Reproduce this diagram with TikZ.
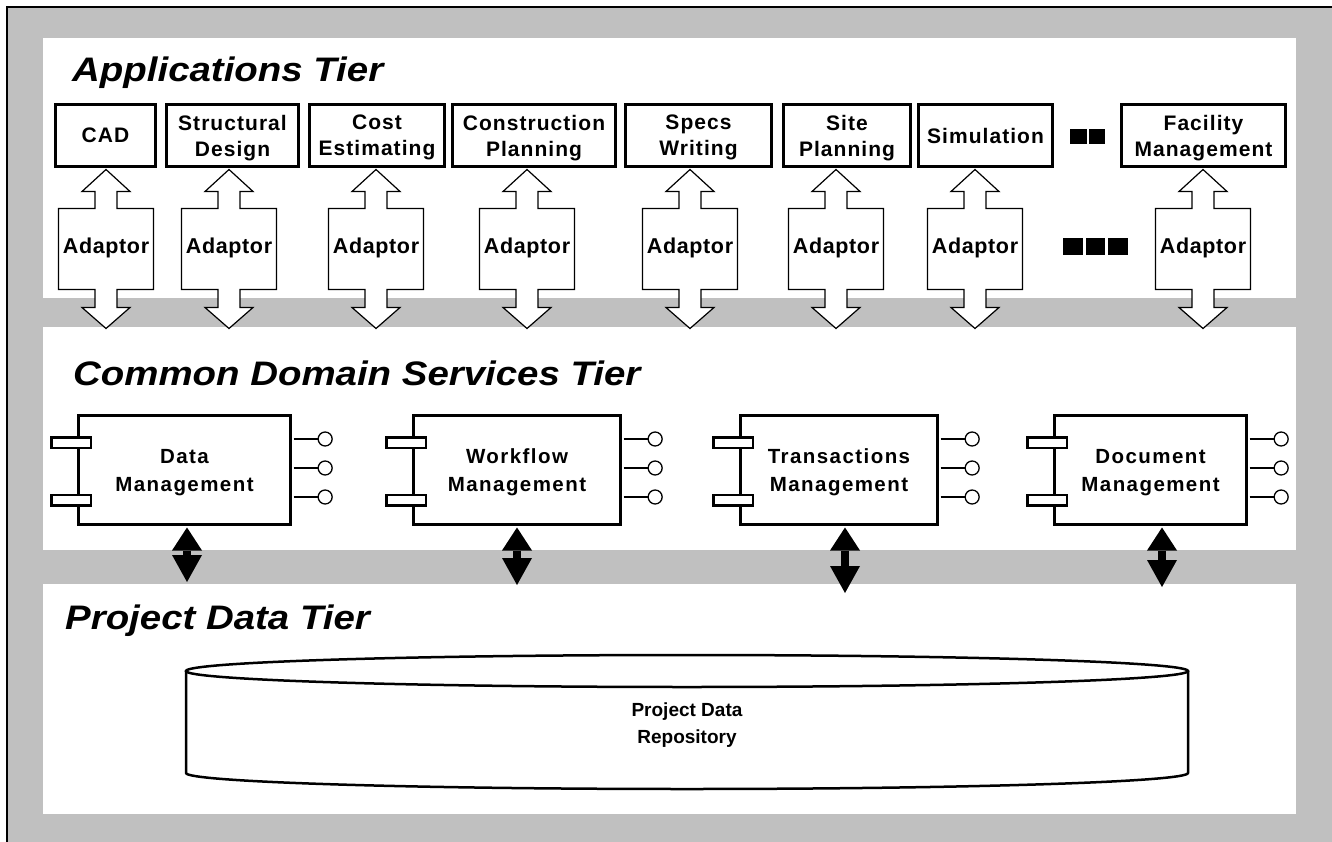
\documentclass[tikz,border=0pt]{standalone}
\usepackage{fontspec}
\setmainfont{Liberation Sans}
\newfontfamily\titlefont[FakeStretch=1.13]{Liberation Sans}
\newfontfamily\appfont[LetterSpace=5]{Liberation Sans}
\newfontfamily\adfont[LetterSpace=3]{Liberation Sans}
\newfontfamily\compfont[LetterSpace=7]{Liberation Sans}
\usetikzlibrary{arrows.meta,calc}
\definecolor{tiergray}{HTML}{C0C0C0}
\begin{document}
\begin{tikzpicture}[x=1pt,y=-1pt,
  tiertitle/.style={anchor=base west, inner sep=0, font=\titlefont\fontsize{34}{38}\selectfont\bfseries\itshape},
  appbox/.style={draw, line width=3pt, fill=white, minimum height=62pt, inner sep=0, text depth=0pt, align=center, font=\appfont\fontsize{21}{26}\selectfont\bfseries},
  adlabel/.style={inner sep=0, font=\adfont\fontsize{21.5}{24}\selectfont\bfseries},
  adline/.style={draw, fill=white, line width=1.2pt, line join=miter},
  comp/.style={draw, line width=3pt, fill=white, minimum height=109pt, inner sep=0, text depth=0pt, align=center, font=\compfont\fontsize{20.5}{28}\selectfont\bfseries},
  port/.style={draw, line width=2.5pt, fill=white, minimum width=39.5pt, minimum height=10.5pt, inner sep=0},
  lolly/.style={line width=1.3pt},
  lollyhead/.style={circle, draw, line width=1.3pt, fill=white, minimum size=14pt, inner sep=0},
  dblarrow/.style={line width=8pt, {Triangle[length=23pt,width=30pt,line width=0pt]}-{Triangle[length=27pt,width=30pt,line width=0pt]}},
  repotext/.style={align=center, inner sep=0, text depth=0pt, font=\fontsize{19}{27}\selectfont\bfseries},
]
\useasboundingbox (0,0) rectangle (1332,842);
\clip (0,0) rectangle (1332,842);
\fill[white] (0,0) rectangle (1332,842);
\draw[fill=tiergray, line width=1.5pt] (7,7) rectangle (1345,855);

% tier panels
\fill[white] (43,38) rectangle (1296,298);
\fill[white] (43,327) rectangle (1296,550);
\fill[white] (43,584) rectangle (1296,814);

% titles
\node[tiertitle] (t1) at (72,82) {Applications Tier};
\node[tiertitle] (t2) at (73,385) {Common Domain Services Tier};
\node[tiertitle] (t3) at (65,629) {Project Data Tier};

% application boxes
\node[appbox, minimum width=100pt] (cad) at (105.5,135.5) {CAD};
\node[appbox, minimum width=132pt] (sd) at (232.5,135.5) {Structural\\Design};
\node[appbox, minimum width=135pt] (ce) at (377,135.5) {Cost\\Estimating};
\node[appbox, minimum width=163pt] (cp) at (534,135.5) {Construction\\Planning};
\node[appbox, minimum width=146pt] (sw) at (698.5,135.5) {Specs\\Writing};
\node[appbox, minimum width=127pt] (sp) at (847,135.5) {Site\\Planning};
\node[appbox, minimum width=134pt] (sim) at (985.5,135.5) {Simulation};
\node[appbox, minimum width=164pt] (fm) at (1203.5,135.5) {Facility\\Management};

% ellipsis squares
\fill (1070,129) rectangle (1087,144);
\fill (1089,129) rectangle (1105,144);
\fill (1063,238) rectangle (1083,255);
\fill (1086,238) rectangle (1105,255);
\fill (1108,238) rectangle (1128,255);

% adaptors
\foreach \n/\cx in {cad/106, sd/229, ce/376, cp/527, sw/690, sp/836, sim/975, fm/1203} {
  \coordinate (adc-\n) at (\cx,247.5);
  \draw[adline] ($(adc-\n |- \n.south)+(0,1.5)$) --++(24,22) --++(-13,0) --++(0,17)
     --++(36.5,0) --++(0,81) --++(-36.5,0) --++(0,18) --++(13,0) --++(-24,21)
     --++(-24,-21) --++(13,0) --++(0,-18) --++(-36.5,0) --++(0,-81) --++(36.5,0)
     --++(0,-17) --++(-13,0) -- cycle;
  \node[adlabel] (ad-\n) at (adc-\n) {Adaptor};
}

% components
\node[comp, minimum width=212pt] (dm) at (184.5,470) {Data\\Management};
\node[comp, minimum width=207pt] (wm) at (517,470) {Workflow\\Management};
\node[comp, minimum width=197pt] (tm) at (839,470) {Transactions\\Management};
\node[comp, minimum width=192pt] (docm) at (1150.5,470) {Document\\Management};

\foreach \cn in {dm,wm,tm,docm} {
  \node[port] (\cn-p1) at ($(\cn.west)+(-6,-27.5)$) {};
  \node[port] (\cn-p2) at ($(\cn.west)+(-6,30)$) {};
  \foreach \dy/\k in {-31/1,-2/2,27/3} {
    \draw[lolly] ($(\cn.east)+(1.5,\dy)$) -- ++(24,0) node[lollyhead, anchor=west] (\cn-l\k) {};
  }
}

% black double arrows
\coordinate (dmb) at (187,582);
\coordinate (wmb) at (517,585);
\coordinate (tmb) at (845,593);
\coordinate (docmb) at (1162,587);
\foreach \cn in {dm,wm,tm,docm} {
  \draw[dblarrow] ($(\cn b |- \cn.south)+(0,1.5)$) -- (\cn b);
}

% repository cylinder
\draw[line width=2.5pt] (687,671) ellipse [x radius=501, y radius=16];
\draw[line width=2.5pt, line join=round] (186,671) -- (186,773)
  .. controls (186,781.84) and (410.3,789) .. (687,789)
  .. controls (963.7,789) and (1188,781.84) .. (1188,773) -- (1188,671);
\node[repotext] (repo) at (687,723) {Project Data\\Repository};
\end{tikzpicture}
\end{document}
